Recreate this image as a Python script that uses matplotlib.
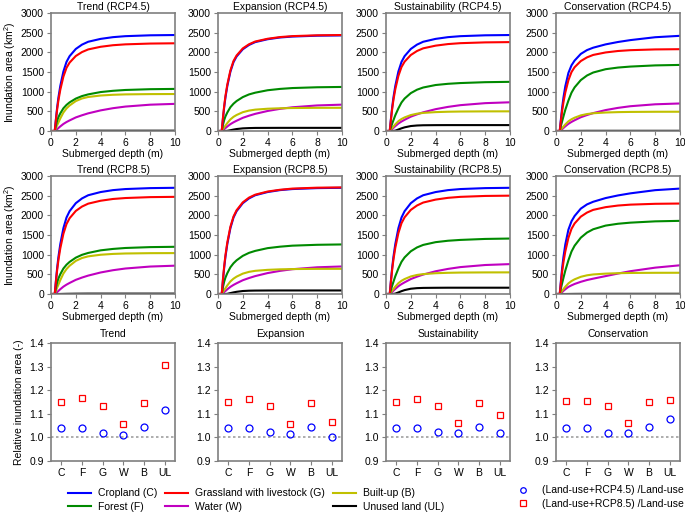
import matplotlib.pyplot as plt
from matplotlib.lines import Line2D

plt.rcParams['font.family'] = ['Liberation Sans', 'DejaVu Sans']
plt.rcParams['font.size'] = 7.5
plt.rcParams['mathtext.fontset'] = 'custom'
plt.rcParams['mathtext.rm'] = 'Liberation Sans'

# depth (m) at which the curves were read
depth = [0, 0.3, 0.4, 0.5, 0.6, 0.75, 1, 1.25, 1.5, 2, 2.5, 3, 4, 5, 6, 8, 10]

# inundation area (km2), order: C, G, F, W, B, UL
trend_45 = [
    [0, 0, 317, 610, 854, 1147, 1513, 1757, 1903, 2086, 2196, 2269, 2342, 2386, 2411, 2433, 2440],
    [0, 0, 290, 558, 781, 1048, 1383, 1606, 1739, 1907, 2007, 2074, 2141, 2181, 2203, 2223, 2230],
    [0, 0, 150, 268, 353, 449, 578, 663, 728, 824, 888, 931, 990, 1022, 1043, 1063, 1070],
    [0, 0, 21, 48, 76, 117, 179, 228, 269, 345, 400, 449, 524, 580, 621, 669, 690],
    [0, 0, 75, 150, 216, 320, 470, 573, 649, 761, 827, 865, 902, 921, 931, 938, 940],
    [0, 0, 0, 0, 0, 0, 2, 4, 5, 7, 7, 8, 8, 8, 8, 8, 8],
]
expansion_45 = [
    [0, 0, 316, 608, 851, 1142, 1507, 1750, 1895, 2078, 2187, 2260, 2333, 2377, 2401, 2423, 2430],
    [0, 0, 340, 640, 890, 1180, 1540, 1780, 1920, 2100, 2205, 2275, 2345, 2388, 2412, 2433, 2440],
    [0, 0, 157, 280, 370, 470, 605, 694, 762, 862, 930, 974, 1036, 1070, 1092, 1112, 1120],
    [0, 0, 20, 47, 74, 114, 174, 221, 261, 335, 389, 436, 509, 563, 603, 650, 670],
    [0, 0, 47, 94, 136, 201, 295, 360, 407, 478, 519, 543, 566, 578, 584, 589, 590],
    [0, 0, 0, 0, 1, 5, 20, 36, 50, 67, 74, 78, 79, 80, 80, 80, 80],
]
sustain_45 = [
    [0, 0, 317, 610, 854, 1147, 1513, 1757, 1903, 2086, 2196, 2269, 2342, 2386, 2411, 2433, 2440],
    [0, 0, 294, 565, 791, 1062, 1401, 1627, 1763, 1932, 2034, 2102, 2170, 2210, 2233, 2253, 2260],
    [0, 0, 100, 188, 275, 400, 575, 725, 825, 963, 1050, 1106, 1169, 1200, 1219, 1241, 1250],
    [0, 0, 22, 51, 80, 124, 190, 241, 285, 365, 423, 475, 555, 613, 657, 708, 730],
    [0, 0, 40, 80, 115, 170, 250, 305, 345, 405, 440, 460, 480, 490, 495, 499, 500],
    [0, 0, 0, 0, 2, 9, 38, 68, 93, 126, 140, 146, 149, 150, 150, 150, 150],
]
conserv_45 = [
    [0, 0, 315, 605, 847, 1137, 1476, 1670, 1791, 1960, 2057, 2118, 2202, 2263, 2311, 2384, 2420],
    [0, 0, 270, 520, 728, 978, 1290, 1498, 1622, 1778, 1872, 1934, 1997, 2034, 2055, 2074, 2080],
    [0, 0, 134, 252, 370, 538, 773, 974, 1109, 1294, 1411, 1487, 1571, 1613, 1638, 1668, 1680],
    [0, 0, 21, 49, 77, 119, 182, 231, 273, 350, 406, 455, 532, 588, 630, 679, 700],
    [0, 0, 39, 78, 113, 167, 245, 299, 338, 397, 431, 451, 470, 480, 485, 489, 490],
    [0, 0, 0, 0, 0, 0, 1, 2, 3, 4, 5, 5, 5, 5, 5, 5, 5],
]
trend_85 = [
    [0, 0, 351, 675, 945, 1269, 1674, 1944, 2106, 2309, 2430, 2511, 2592, 2641, 2668, 2692, 2700],
    [0, 0, 321, 618, 865, 1161, 1531, 1778, 1927, 2112, 2223, 2297, 2371, 2416, 2440, 2463, 2470],
    [0, 0, 168, 300, 396, 504, 648, 744, 816, 924, 996, 1044, 1110, 1146, 1170, 1192, 1200],
    [0, 0, 22, 50, 79, 122, 187, 238, 281, 360, 418, 468, 547, 605, 648, 698, 720],
    [0, 0, 83, 166, 239, 354, 520, 634, 718, 842, 915, 957, 998, 1019, 1030, 1038, 1040],
    [0, 0, 0, 0, 0, 1, 3, 5, 6, 8, 9, 10, 10, 10, 10, 10, 10],
]
expansion_85 = [
    [0, 0, 351, 675, 945, 1269, 1674, 1944, 2106, 2309, 2430, 2511, 2592, 2641, 2668, 2692, 2700],
    [0, 0, 380, 710, 985, 1310, 1710, 1970, 2130, 2330, 2450, 2525, 2605, 2650, 2680, 2703, 2710],
    [0, 0, 176, 315, 416, 529, 680, 781, 857, 970, 1046, 1096, 1166, 1203, 1229, 1251, 1260],
    [0, 0, 21, 49, 77, 119, 182, 231, 273, 350, 406, 455, 532, 588, 630, 679, 700],
    [0, 0, 51, 102, 147, 218, 320, 390, 442, 518, 563, 589, 614, 627, 634, 639, 640],
    [0, 0, 0, 0, 1, 5, 23, 41, 56, 76, 84, 87, 89, 90, 90, 90, 90],
]
sustain_85 = [
    [0, 0, 351, 675, 945, 1269, 1674, 1944, 2106, 2309, 2430, 2511, 2592, 2641, 2668, 2692, 2700],
    [0, 0, 325, 625, 875, 1175, 1550, 1800, 1950, 2138, 2250, 2325, 2400, 2445, 2470, 2493, 2500],
    [0, 0, 113, 212, 310, 451, 649, 818, 931, 1086, 1184, 1248, 1318, 1354, 1375, 1400, 1410],
    [0, 0, 23, 53, 84, 129, 198, 251, 296, 380, 441, 494, 578, 638, 684, 737, 760],
    [0, 0, 44, 88, 127, 187, 275, 336, 380, 446, 484, 506, 528, 539, 545, 549, 550],
    [0, 0, 0, 0, 2, 10, 40, 72, 99, 134, 149, 155, 158, 160, 160, 160, 160],
]
conserv_85 = [
    [0, 0, 348, 670, 938, 1260, 1635, 1849, 1983, 2171, 2278, 2345, 2439, 2506, 2559, 2640, 2680],
    [0, 0, 299, 575, 805, 1081, 1426, 1656, 1794, 1967, 2070, 2139, 2208, 2249, 2272, 2293, 2300],
    [0, 0, 149, 279, 409, 595, 856, 1079, 1228, 1432, 1562, 1646, 1739, 1786, 1814, 1847, 1860],
    [0, 0, 22, 50, 80, 120, 180, 220, 255, 310, 355, 390, 455, 520, 580, 670, 730],
    [0, 0, 43, 86, 124, 184, 270, 329, 373, 437, 475, 497, 518, 529, 535, 539, 540],
    [0, 0, 0, 0, 0, 0, 1, 2, 3, 4, 5, 5, 5, 5, 5, 5, 5],
]

# relative inundation area, order C, F, G, W, B, UL
cats = ['C', 'F', 'G', 'W', 'B', 'UL']
rel_trend_45 = [1.038, 1.040, 1.020, 1.010, 1.043, 1.118]
rel_trend_85 = [1.152, 1.165, 1.131, 1.056, 1.145, 1.308]
rel_exp_45 = [1.038, 1.040, 1.024, 1.015, 1.046, 1.002]
rel_exp_85 = [1.152, 1.164, 1.134, 1.056, 1.145, 1.066]
rel_sus_45 = [1.038, 1.038, 1.023, 1.018, 1.043, 1.018]
rel_sus_85 = [1.152, 1.162, 1.133, 1.062, 1.146, 1.093]
rel_con_45 = [1.038, 1.040, 1.020, 1.020, 1.043, 1.080]
rel_con_85 = [1.153, 1.156, 1.133, 1.060, 1.148, 1.158]

scenarios = ['Trend', 'Expansion', 'Sustainability', 'Conservation']
curves_45 = [trend_45, expansion_45, sustain_45, conserv_45]
curves_85 = [trend_85, expansion_85, sustain_85, conserv_85]
rel_45 = [rel_trend_45, rel_exp_45, rel_sus_45, rel_con_45]
rel_85 = [rel_trend_85, rel_exp_85, rel_sus_85, rel_con_85]

line_colors = ['#0000ff', '#ff0000', '#008a00', '#c000c0', '#c0c000', '#000000']
line_names = ['Cropland (C)', 'Grassland with livestock (G)', 'Forest (F)',
              'Water (W)', 'Built-up (B)', 'Unused land (UL)']
draw_order = [3, 4, 5, 2, 0, 1]

W, H = 685, 514
fig = plt.figure(figsize=(W / 100, H / 100), dpi=100)

lefts = [51, 218, 386, 556]
tops = [13, 176, 343]
aw, ah = 124, 118

spine_c = '#7f7f7f'


def make_ax(col, row):
    ax = fig.add_axes([lefts[col] / W, 1 - (tops[row] + ah) / H, aw / W, ah / H])
    for s in ax.spines.values():
        s.set_color(spine_c)
        s.set_linewidth(1.2)
    ax.tick_params(direction='out', length=3, width=0.8, color=spine_c,
                   labelsize=7.5, pad=2)
    return ax


for row, (curves, tag) in enumerate([(curves_45, 'RCP4.5'), (curves_85, 'RCP8.5')]):
    for col in range(4):
        ax = make_ax(col, row)
        data = curves[col]
        for k in draw_order:
            ax.plot(depth, data[k], color=line_colors[k], lw=1.5)
        ax.set_xlim(0, 10)
        ax.set_ylim(0, 3000)
        ax.set_xticks([0, 2, 4, 6, 8, 10])
        ax.set_yticks(range(0, 3001, 500))
        ax.set_title(scenarios[col] + ' (' + tag + ')', fontsize=7.5, pad=2)
        ax.set_xlabel('Submerged depth (m)', fontsize=7.5, labelpad=1)
        if col == 0:
            ax.set_ylabel('Inundation area (km$^2$)', fontsize=7.5, labelpad=2)

xpos = list(range(1, len(cats) + 1))
for col in range(4):
    ax = make_ax(col, 2)
    ax.axhline(1.0, color='#a0a0a0', lw=1.2, ls=(0, (1.5, 1.5)), zorder=1)
    ax.plot(xpos, rel_45[col], 'o', mfc='none', mec='#0000ff', ms=5, mew=0.9)
    ax.plot(xpos, rel_85[col], 's', mfc='none', mec='#ff0000', ms=5, mew=0.9)
    ax.set_xlim(0.5, 6.5)
    ax.set_ylim(0.9, 1.4)
    ax.set_xticks(xpos)
    ax.set_xticklabels(cats)
    ax.set_yticks([0.9, 1.0, 1.1, 1.2, 1.3, 1.4])
    ax.set_yticklabels(['%.1f' % v for v in [0.9, 1.0, 1.1, 1.2, 1.3, 1.4]])
    ax.set_title(scenarios[col], fontsize=7.5, pad=4)
    if col == 0:
        ax.set_ylabel('Relative inundation area (-)', fontsize=7.5, labelpad=4)

# legends
leg_order = [0, 2, 1, 3, 4, 5]
handles = [Line2D([], [], color=line_colors[k], lw=1.5) for k in leg_order]
labels = [line_names[k] for k in leg_order]
fig.legend(handles, labels, ncol=3, loc='center left',
           bbox_to_anchor=(68 / W, 1 - 500 / H), frameon=False, fontsize=7.5,
           borderpad=0, borderaxespad=0,
           handlelength=2.2, columnspacing=0.8, labelspacing=0.35,
           handletextpad=0.65)

mk_handles = [Line2D([], [], ls='none', marker='o', mfc='none', mec='#0000ff', ms=4, mew=0.9),
              Line2D([], [], ls='none', marker='s', mfc='none', mec='#ff0000', ms=4, mew=0.9)]
fig.legend(mk_handles, ['(Land-use+RCP4.5) /Land-use', '(Land-use+RCP8.5) /Land-use'],
           loc='center left', bbox_to_anchor=(518 / W, 1 - 497 / H), frameon=False,
           borderpad=0, borderaxespad=0, handlelength=1.0,
           fontsize=7.5, labelspacing=0.35, handletextpad=1.3)

fig.savefig('out.png', dpi=100)
